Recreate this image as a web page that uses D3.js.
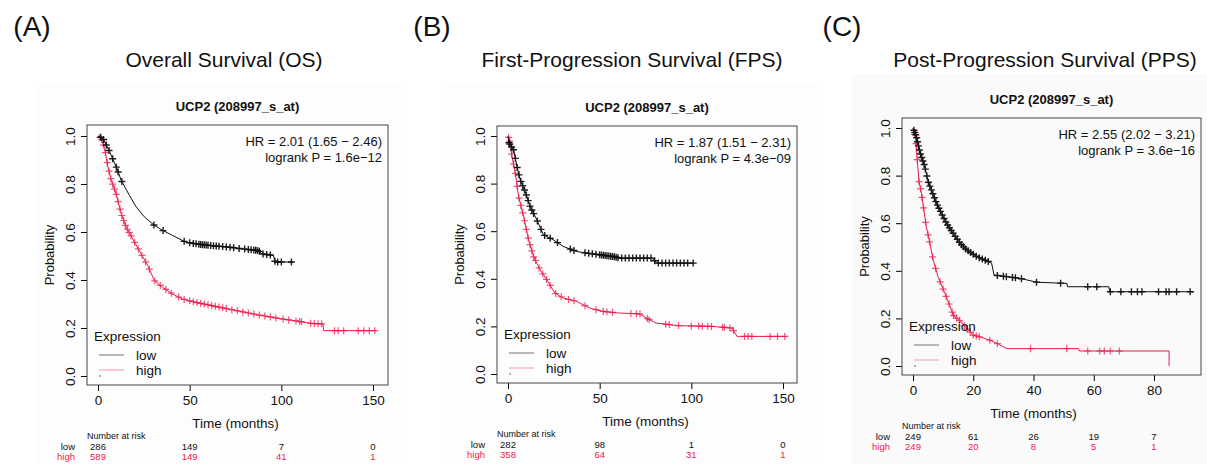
<!DOCTYPE html>
<html lang="en">
<head>
<meta charset="utf-8">
<script src="https://d3js.org/d3.v7.min.js"></script>
<style>
  body { margin: 0; background: #fff; }
  svg text { font-family: "Liberation Sans", Arial, Helvetica, sans-serif; fill: #111; }
</style>
</head>
<body>
<svg id="chart" width="1207" height="464"></svg>
<script>
// values: [months, survival probability]
var yTicks = [0, 0.2, 0.4, 0.6, 0.8, 1.0];

// (A) overall survival
var osTicks = [0, 50, 100, 150];
var osLow = [[0,1],[2.7,0.99],[6.3,0.935],[10.3,0.865],[12.6,0.816],[17.1,0.753],[20.8,0.705],[25.3,0.663],[30.7,0.628],[35.2,0.607],[40.6,0.586],[47.8,0.558],[53.2,0.551],[60.5,0.544],[71.3,0.537],[78.5,0.53],[87.5,0.523],[89.4,0.509],[95.7,0.502],[96.6,0.475],[106.5,0.475]];
var osHigh = [[0,1],[1.8,0.99],[3.6,0.948],[5.4,0.872],[7.2,0.816],[9.9,0.76],[12.6,0.677],[15.3,0.621],[19.9,0.558],[23.5,0.509],[27.1,0.461],[30.7,0.398],[35.2,0.37],[40.6,0.342],[46,0.321],[53.2,0.307],[62.3,0.293],[71.3,0.279],[80.3,0.265],[89.4,0.252],[100.2,0.238],[109.2,0.228],[116.4,0.219],[122.7,0.217],[123.1,0.189],[151.6,0.189]];
var osLowCens = [1.5,3,4.5,6,8,10,11,13,30.5,35.5,47,50,52,53.5,55,56,57,58,59,60,61.5,63,64.5,66,68,70,72,74,77,80,82,83.5,85,86,87,88,90,92,94,96.5,98,100,105.5];
var osHighCens = [1,2,3,4,5,6,7,8,9,10,11,12,13,14,15,16,17,18,20,22,24,26,28,31,34,37,40,44,47,50,52,54,56,58,60,62,64,66,68,70,73,76,79,82,85,88,91,94,97,101,104,108,110,111,116,118,120,122,129,131,134,142,145,148,151];
var osRiskLow = [286, 149, 7, 0];
var osRiskHigh = [589, 149, 41, 1];

// (B) first-progression survival
var fpsTicks = [0, 50, 100, 150];
var fpsLow = [[0,1],[0.4,0.973],[3.1,0.941],[4.9,0.871],[6.7,0.815],[9.4,0.766],[12.1,0.703],[15.7,0.648],[19.3,0.585],[24.7,0.564],[30.1,0.536],[37.4,0.515],[42.8,0.508],[50,0.501],[57.2,0.494],[60.8,0.487],[78.9,0.487],[81,0.466],[101.4,0.466]];
var fpsHigh = [[0,1],[0.9,0.983],[2.2,0.913],[4,0.843],[5.8,0.745],[8.5,0.662],[11.2,0.564],[13.9,0.494],[17.5,0.438],[21.1,0.396],[25.6,0.34],[30.1,0.319],[37.4,0.305],[44.6,0.277],[51.8,0.263],[60.8,0.256],[71.7,0.253],[77.1,0.228],[80.7,0.214],[93.3,0.203],[111.3,0.2],[122.2,0.193],[124.9,0.158],[152,0.158]];
var fpsLowCens = [0.5,1,2,3,4,5,6,7,8,9,10,11,12,13,14,16,18,20,23,27,34,36,42,44,46,48,50,51,52,53,54,55,56,57,58,59,60,62,64,66,68,70,72,74,76,78,80,82,84,86,88,90,92,94,96,98,101];
var fpsHighCens = [0.3,1,2,3,4,5,6,7,8,9,10,11,12,13,14,15,17,19,21,23,26,29,33,36,42,48,52,54,57,67,70,72,76,77,86,88,93,100,104,106,109,111,117,118,121,123,129,131,133,143,147,151];
var fpsRiskLow = [282, 98, 1, 0];
var fpsRiskHigh = [358, 64, 31, 1];

// (C) post-progression survival
var ppsTicks = [0, 20, 40, 60, 80];
var ppsLow = [[0,1],[1.1,0.965],[2.2,0.902],[3.9,0.839],[5,0.775],[6.1,0.74],[7.8,0.684],[9.4,0.642],[11.1,0.6],[13.3,0.558],[15.6,0.516],[17.8,0.488],[21.1,0.46],[25,0.439],[26.1,0.432],[26.9,0.382],[35.6,0.368],[41.1,0.352],[51.1,0.347],[51.3,0.333],[65,0.333],[65.3,0.312],[93.3,0.312]];
var ppsHigh = [[0,1],[0.9,0.951],[1.4,0.867],[2,0.775],[2.8,0.726],[3.6,0.656],[4.4,0.586],[5.6,0.516],[6.7,0.446],[8.3,0.375],[10.6,0.305],[12.8,0.235],[13.3,0.214],[15.6,0.19],[17.8,0.158],[20,0.13],[22.2,0.122],[25.6,0.108],[28.3,0.092],[31.1,0.073],[55,0.073],[55.2,0.063],[85,0.063],[85,0]];
var ppsLowCens = [0.3,0.6,0.9,1.2,1.5,1.8,2.1,2.5,2.9,3.3,3.7,4.1,4.6,5.1,5.6,6.1,6.6,7.1,7.6,8.1,8.6,9.1,9.7,10.3,10.9,11.5,12.1,12.7,13.3,14,14.7,15.4,16.1,16.8,17.5,18.3,19.1,20,21,22,23,24,25,28,30,31,33,34,36,41,49,58,61,65.5,69,72.5,74.5,76,81.5,84,85,87.5,92];
var ppsHighCens = [0.5,1,1.4,2,2.5,3,3.5,4.2,5,5.5,6.5,7.5,9,10,11,12,13,13.5,14.5,15.5,17,18,19,20,21,22,25.5,28,39,51,58,62,63.5,65.5,68.5];
var ppsRiskLow = [249, 61, 26, 19, 7];
var ppsRiskHigh = [249, 20, 8, 5, 1];

var RED = '#ec1a4c';
var svg = d3.select('#chart');

var panels = [
  { tag: '(A)', tagX: 32, title: 'Overall Survival (OS)', titleX: 224,
    bg: [37, 83, 370, 381], bgFill: '#fdfdfd', box: { l: 87, t: 125, r: 388, b: 385 },
    xr: [98, 373], yr: [376, 136], tmax: 150, ticks: osTicks,
    hr: ['HR = 2.01 (1.65 \u2212 2.46)', 'logrank P = 1.6e\u221212'],
    low: osLow, high: osHigh, lowC: osLowCens, highC: osHighCens,
    riskLow: osRiskLow, riskHigh: osRiskHigh },
  { tag: '(B)', tagX: 432, title: 'First-Progression Survival (FPS)', titleX: 632,
    bg: [447, 83, 370, 381], bgFill: '#fdfdfd', box: { l: 497, t: 126, r: 797, b: 383 },
    xr: [508, 783], yr: [374, 136], tmax: 150, ticks: fpsTicks,
    hr: ['HR = 1.87 (1.51 \u2212 2.31)', 'logrank P = 4.3e\u221209'],
    low: fpsLow, high: fpsHigh, lowC: fpsLowCens, highC: fpsHighCens,
    riskLow: fpsRiskLow, riskHigh: fpsRiskHigh },
  { tag: '(C)', tagX: 842, title: 'Post-Progression Survival (PPS)', titleX: 1045,
    bg: [852, 74, 355, 390], bgFill: '#fafafa', box: { l: 902, t: 118, r: 1201, b: 375 },
    xr: [913, 1154], yr: [366, 128], tmax: 80, ticks: ppsTicks,
    hr: ['HR = 2.55 (2.02 \u2212 3.21)', 'logrank P = 3.6e\u221216'],
    low: ppsLow, high: ppsHigh, lowC: ppsLowCens, highC: ppsHighCens,
    riskLow: ppsRiskLow, riskHigh: ppsRiskHigh }
];

// survival value on a curve at time t (to sit the censor marks on the line)
function survAt(curve, t) {
  var i = d3.bisector(function(d) { return d[0]; }).right(curve, t) - 1;
  if (i < 0) return curve[0][1];
  if (i >= curve.length - 1) return curve[curve.length - 1][1];
  var a = curve[i], b = curve[i + 1];
  return a[1] + (b[1] - a[1]) * (t - a[0]) / (b[0] - a[0]);
}

function drawPanel(p) {
  var g = svg.append('g');
  var bx = p.box;

  g.append('rect')
    .attr('x', p.bg[0]).attr('y', p.bg[1])
    .attr('width', p.bg[2]).attr('height', p.bg[3])
    .attr('fill', p.bgFill);

  g.append('text').attr('x', p.tagX).attr('y', 26).attr('dy', '0.35em')
    .attr('text-anchor', 'middle').style('font-size', '28px').text(p.tag);
  g.append('text').attr('x', p.titleX).attr('y', 60).attr('dy', '0.35em')
    .attr('text-anchor', 'middle').style('font-size', '21px').text(p.title);

  var x = d3.scaleLinear().domain([0, p.tmax]).range(p.xr);
  var y = d3.scaleLinear().domain([0, 1]).range(p.yr);
  var cx = (bx.l + bx.r) / 2;

  g.append('text').attr('x', cx).attr('y', bx.t - 19).attr('dy', '0.35em')
    .attr('text-anchor', 'middle').style('font-size', '13px').style('font-weight', 'bold')
    .text('UCP2 (208997_s_at)');

  // axes
  var xAxis = g.append('g').attr('transform', 'translate(0,' + bx.b + ')')
    .call(d3.axisBottom(x).tickValues(p.ticks).tickSize(6).tickPadding(4).tickSizeOuter(0));
  xAxis.select('.domain').remove();
  xAxis.selectAll('text').style('font-size', '13.5px').attr('fill', '#111');

  var yAxis = g.append('g').attr('transform', 'translate(' + bx.l + ',0)')
    .call(d3.axisLeft(y).tickValues(yTicks).tickFormat(d3.format('.1f')).tickSize(6).tickSizeOuter(0));
  yAxis.select('.domain').remove();
  yAxis.selectAll('text')
    .attr('x', null).attr('dy', null)
    .attr('text-anchor', 'middle')
    .attr('transform', 'translate(-17,0) rotate(-90)')
    .attr('y', 4.5)
    .style('font-size', '13.5px').attr('fill', '#111');

  g.append('rect')
    .attr('x', bx.l).attr('y', bx.t)
    .attr('width', bx.r - bx.l).attr('height', bx.b - bx.t)
    .attr('fill', 'none').attr('stroke', '#444').attr('stroke-width', 1);

  g.append('text').attr('transform', 'translate(' + (bx.l - 38) + ',' + ((bx.t + bx.b) / 2) + ') rotate(-90)')
    .attr('dy', '0.35em').attr('text-anchor', 'middle').style('font-size', '13px').text('Probability');
  g.append('text').attr('x', x(p.tmax / 2)).attr('y', bx.b + 38).attr('dy', '0.35em')
    .attr('text-anchor', 'middle').style('font-size', '13.5px').text('Time (months)');

  // HR / logrank
  p.hr.forEach(function(s, i) {
    g.append('text').attr('x', bx.r - 6).attr('y', bx.t + 16 + i * 16).attr('dy', '0.35em')
      .attr('text-anchor', 'end').style('font-size', '13px').text(s);
  });

  // curves
  var line = d3.line().x(function(d) { return x(d[0]); }).y(function(d) { return y(d[1]); });
  var series = [
    { curve: p.high, cens: p.highC, color: RED, op: 0.75, w: 1.2 },
    { curve: p.low, cens: p.lowC, color: '#111', op: 0.95, w: 1.4 }
  ];
  series.forEach(function(s) {
    g.append('path').datum(s.curve).attr('d', line)
      .attr('fill', 'none').attr('stroke', s.color).attr('stroke-width', 1);
    g.selectAll(null).data(s.cens).enter().append('path')
      .attr('transform', function(t) { return 'translate(' + x(t) + ',' + y(survAt(s.curve, t)) + ')'; })
      .attr('d', 'M-3.5,0H3.5M0,-3.5V3.5')
      .attr('stroke', s.color).attr('stroke-opacity', s.op).attr('stroke-width', s.w);
  });

  // legend
  var lx = bx.l + 7;
  g.append('text').attr('x', lx).attr('y', bx.b - 49).attr('dy', '0.35em')
    .style('font-size', '13.5px').text('Expression');
  [['low', '#8a8a8a', -30], ['high', '#f4a9bb', -15]].forEach(function(e) {
    g.append('line').attr('x1', bx.l + 12).attr('x2', bx.l + 37)
      .attr('y1', bx.b + e[2]).attr('y2', bx.b + e[2])
      .attr('stroke', e[1]).attr('stroke-width', 1.2);
    g.append('text').attr('x', bx.l + 49).attr('y', bx.b + e[2]).attr('dy', '0.35em')
      .style('font-size', '13.5px').text(e[0]);
  });
  g.append('circle').attr('cx', bx.l + 13).attr('cy', bx.b - 9).attr('r', 0.7).attr('fill', '#333');

  // number at risk table
  g.append('text').attr('x', bx.l).attr('y', bx.b + 51).attr('dy', '0.35em')
    .style('font-size', '9px').text('Number at risk');
  [['low', p.riskLow, '#111', 62], ['high', p.riskHigh, RED, 72]].forEach(function(r) {
    g.append('text').attr('x', bx.l - 12).attr('y', bx.b + r[3]).attr('dy', '0.35em')
      .attr('text-anchor', 'end').style('font-size', '9.5px').style('fill', r[2]).text(r[0]);
    g.selectAll(null).data(r[1]).enter().append('text')
      .attr('x', function(d, i) { return x(p.ticks[i]); })
      .attr('y', bx.b + r[3]).attr('dy', '0.35em')
      .attr('text-anchor', 'middle').style('font-size', '9.5px').style('fill', r[2])
      .text(function(d) { return d; });
  });
}

panels.forEach(drawPanel);
</script>
</body>
</html>
